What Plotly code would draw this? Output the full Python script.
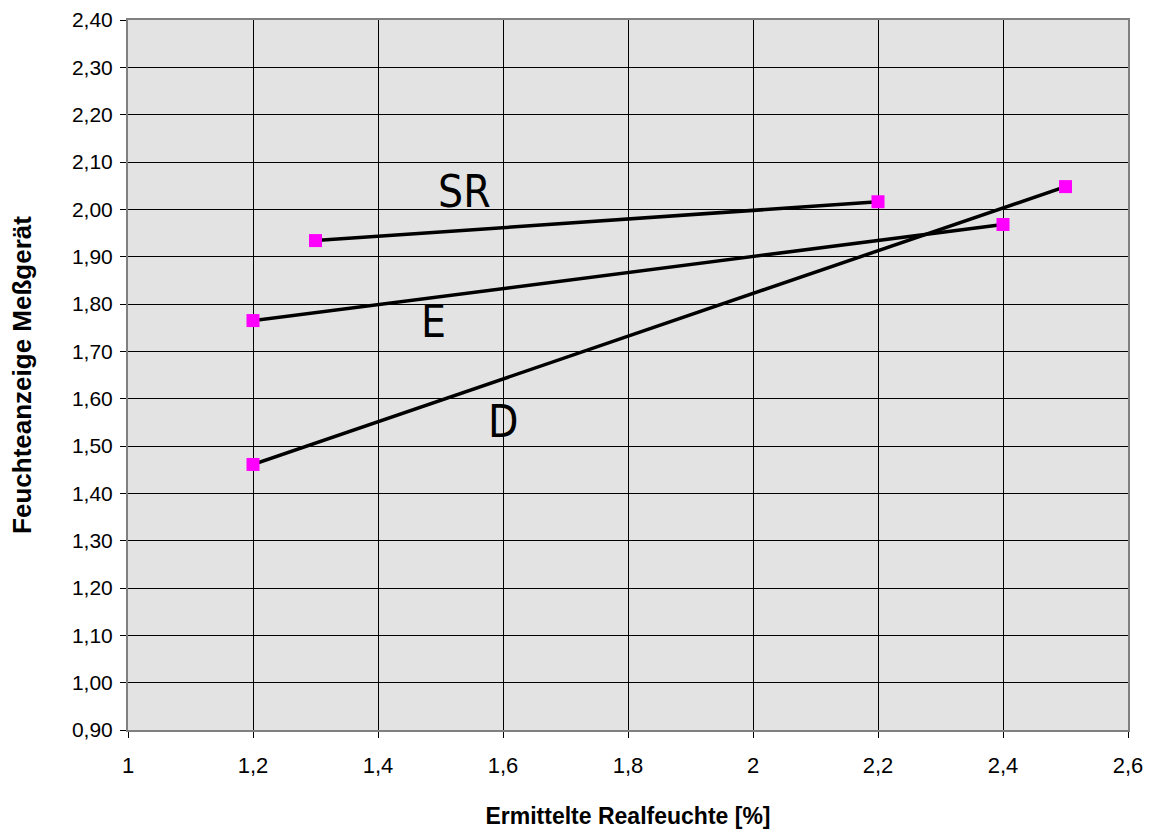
import plotly.graph_objects as go

sr_x = [1.3, 2.2]
sr_y = [1.934, 2.016]
e_x = [1.2, 2.4]
e_y = [1.765, 1.968]
d_x = [1.2, 2.5]
d_y = [1.461, 2.048]

labels = ["SR", "E", "D"]
label_x = [1.539, 1.488, 1.601]
label_y = [2.037, 1.762, 1.551]

x_ticks = [1, 1.2, 1.4, 1.6, 1.8, 2, 2.2, 2.4, 2.6]
x_ticktext = ["1", "1,2", "1,4", "1,6", "1,8", "2", "2,2", "2,4", "2,6"]

fig = go.Figure()
for xs, ys in [(sr_x, sr_y), (e_x, e_y), (d_x, d_y)]:
    fig.add_trace(go.Scatter(
        x=xs, y=ys, mode="lines+markers",
        line=dict(color="black", width=3.5),
        marker=dict(symbol="square", size=13, color="#ff00ff", line=dict(width=0)),
        showlegend=False,
    ))

for t, lx, ly in zip(labels, label_x, label_y):
    fig.add_annotation(x=lx, y=ly, text=t, showarrow=False,
                       font=dict(family="Liberation Sans Narrow, DejaVu Sans Condensed, sans-serif",
                                 size=44, color="black"))

fig.update_layout(
    width=1153, height=831,
    margin=dict(l=128, r=25, t=20, b=101),
    plot_bgcolor="#e3e3e3",
    paper_bgcolor="white",
    separators=", ",
    font=dict(family="Liberation Sans, Arial, sans-serif", size=21, color="black"),
)
fig.update_xaxes(
    range=[1, 2.6], tickvals=x_ticks, ticktext=x_ticktext,
    tickfont=dict(size=22), ticklabelstandoff=9, automargin=False,
    showgrid=True, gridcolor="black", gridwidth=1,
    showline=True, linecolor="#808080", linewidth=2, mirror=True,
    ticks="outside", ticklen=6, tickcolor="black",
    zeroline=False,
    title=dict(text="<b>Ermittelte Realfeuchte [%]</b>", font=dict(size=23), standoff=30),
)
fig.update_yaxes(
    range=[0.9, 2.4], dtick=0.1, tick0=0.9, tickformat=".2f",
    tickfont=dict(size=21), ticklabelstandoff=3, automargin=False,
    showgrid=True, gridcolor="black", gridwidth=1,
    showline=True, linecolor="#808080", linewidth=2, mirror=True,
    ticks="outside", ticklen=6, tickcolor="black",
    zeroline=False,
    title=dict(text="<b>Feuchteanzeige Meßgerät</b>", font=dict(size=26), standoff=33),
)

fig.write_html("out.html", config={"displayModeBar": False},
               post_script="document.body.style.margin='0';")
